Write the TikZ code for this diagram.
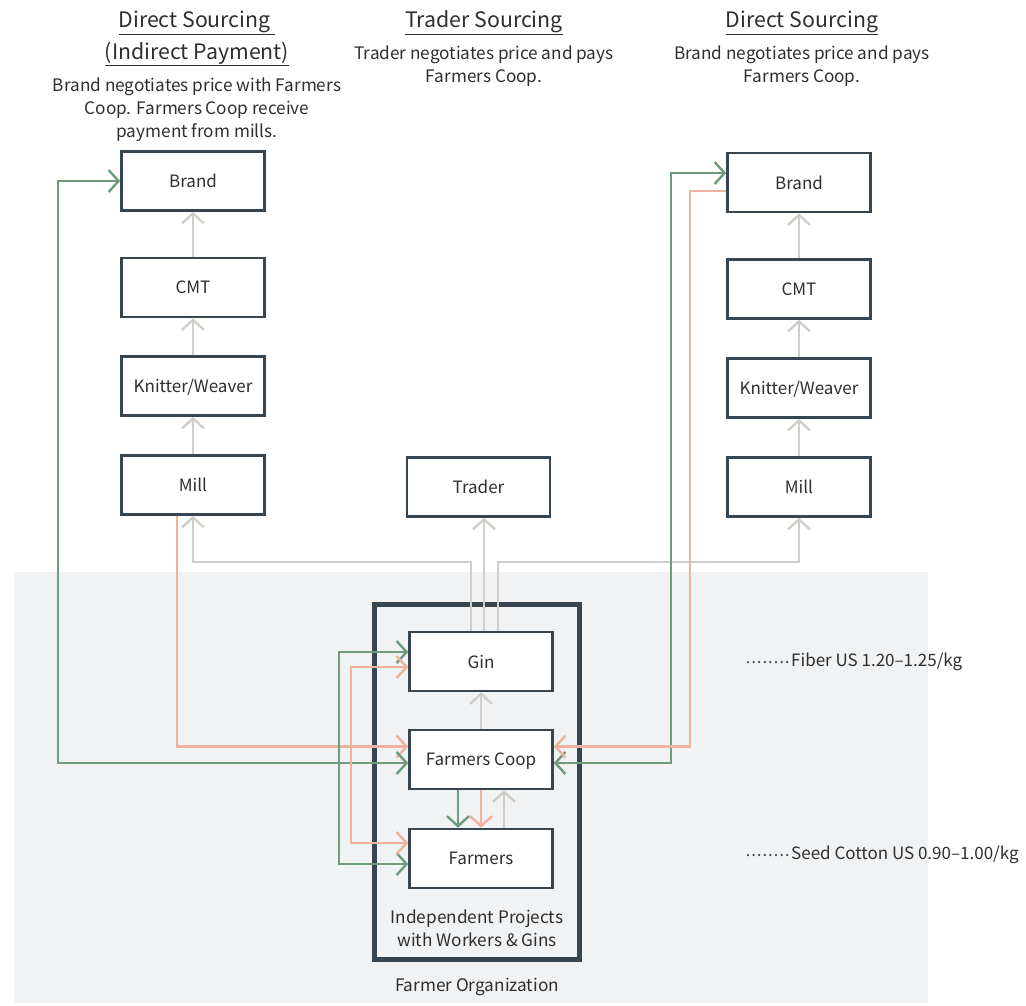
\documentclass[tikz,border=0pt]{standalone}
\usepackage{fontspec}
\setmainfont{Noto Sans CJK SC}
\usetikzlibrary{arrows.meta,calc}
\definecolor{ink}{HTML}{36454F}
\definecolor{txt}{HTML}{2E2E2E}
\definecolor{leaf}{HTML}{6F9A7B}
\definecolor{peach}{HTML}{EDB39F}
\definecolor{stone}{HTML}{CFCEC8}
\definecolor{mist}{HTML}{F0F2F4}
\begin{document}
\begin{tikzpicture}[x=1pt,y=-1pt,
  stage/.style={draw=ink,line width=2.6pt,fill=white,minimum width=143pt,
    minimum height=59pt,inner sep=0pt,text depth=0pt,text=txt,font=\fontsize{17}{20}\selectfont},
  barb/.tip={Straight Barb[length=10pt,width=22pt]},
  link/.style={line width=2.4pt,line cap=butt},
  stoneflow/.style={link,stone,-barb},
  leafflow/.style={link,leaf,-barb},
  peachflow/.style={link,peach,-barb},
  leafboth/.style={link,leaf,barb-barb},
  peachboth/.style={link,peach,barb-barb},
  heading/.style={text=txt,font=\fontsize{21.3}{31}\selectfont,align=center},
  note/.style={text=txt,font=\fontsize{17.2}{23}\selectfont,align=center},
  price/.style={anchor=west,text=txt,font=\fontsize{17}{20}\selectfont,inner sep=0pt},
  leader/.style={ink,line width=2.5pt,dash pattern=on 0pt off 5.6pt,line cap=round}]

\useasboundingbox (0,0) rectangle (1026,1005);
\fill[mist] (14,572) rectangle (928,1003);

% headings and descriptions
\node[heading] (h1a) at (197,23) {\underline{Direct Sourcing\ }};
\node[heading] (h1b) at (197,54) {\underline{(Indirect Payment)}};
\node[note] (d1) at (197,110) {Brand negotiates price with Farmers\\Coop. Farmers Coop receive\\payment from mills.};
\node[heading] (h2) at (484,23) {\underline{Trader Sourcing}};
\node[note] (d2) at (484,66.5) {Trader negotiates price and pays\\Farmers Coop.};
\node[heading] (h3) at (802,23) {\underline{Direct Sourcing}};
\node[note] (d3) at (802,66.5) {Brand negotiates price and pays\\Farmers Coop.};

% farmer organization frame
\node[draw=ink,line width=5pt,minimum width=205pt,minimum height=355pt,inner sep=0pt] (org) at (477,782) {};
\node[note] (proj) at (477,928) {Independent Projects\\with Workers \& Gins};
\node[note] (orgname) at (477,987) {Farmer Organization};

% left supply chain
\node[stage] (lbrand) at (193,181) {Brand};
\node[stage] (lcmt)   at (193,287.5) {CMT};
\node[stage] (lknit)  at (193,386) {Knitter/Weaver};
\node[stage] (lmill)  at (193,485) {Mill};

% right supply chain
\node[stage] (rbrand) at (799,182.5) {Brand};
\node[stage] (rcmt)   at (799,289) {CMT};
\node[stage] (rknit)  at (799,388) {Knitter/Weaver};
\node[stage] (rmill)  at (799,487) {Mill};

% trader and farmer organization stages
\node[stage] (trader) at (478.5,487) {Trader};
\node[stage] (gin)    at (481,661.5) {Gin};
\node[stage] (coop)   at (481,759.5) {Farmers Coop};
\node[stage] (farm)   at (481,858.5) {Farmers};

% price labels
\node[price] (fiber) at (791,662) {Fiber US 1.20–1.25/kg};
\node[price] (seed) at (791,855) {Seed Cotton US 0.90–1.00/kg};
\draw[leader] ($(fiber.west)+(-43,0)$) -- ($(fiber.west)+(-2,0)$);
\draw[leader] ($(seed.west)+(-43,0)$) -- ($(seed.west)+(-2,0)$);

% routing points
\coordinate (bus) at (0,562);
\coordinate (g1) at ($(gin.north)+(-10,0)$);
\coordinate (g2) at ($(gin.north)+(3,0)$);
\coordinate (g3) at ($(gin.north)+(17,0)$);
\coordinate (lrail) at (58,0);
\coordinate (rrailA) at (671,0);
\coordinate (rrailB) at (690,0);
\coordinate (irailA) at (339,0);
\coordinate (irailB) at (351,0);
\coordinate (msrc) at ($(lmill.south)+(-16,0)$);
\coordinate (cwA) at ($(coop.west)+(0,-13)$);
\coordinate (cwB) at ($(coop.west)+(0,3.5)$);
\coordinate (ceA) at ($(coop.east)+(0,-13)$);
\coordinate (ceB) at ($(coop.east)+(0,3.5)$);
\coordinate (rbA) at ($(rbrand.west)+(0,-9.5)$);
\coordinate (rbB) at ($(rbrand.west)+(0,8.5)$);
\coordinate (gwA) at ($(gin.west)+(0,-9.5)$);
\coordinate (gwB) at ($(gin.west)+(0,5.5)$);
\coordinate (fwA) at ($(farm.west)+(0,5.5)$);
\coordinate (fwB) at ($(farm.west)+(0,-15.5)$);
\coordinate (cdA) at ($(coop.south)+(-23,0)$);
\coordinate (cdC) at ($(coop.south)+(23,0)$);
\coordinate (fnA) at ($(farm.north)+(-23,0)$);
\coordinate (fnC) at ($(farm.north)+(23,0)$);

% product flow (grey)
\draw[stoneflow] (lmill.north) -- (lknit.south);
\draw[stoneflow] (lknit.north) -- (lcmt.south);
\draw[stoneflow] (lcmt.north) -- (lbrand.south);
\draw[stoneflow] (rmill.north) -- (rknit.south);
\draw[stoneflow] (rknit.north) -- (rcmt.south);
\draw[stoneflow] (rcmt.north) -- (rbrand.south);
\draw[stoneflow] (g1) -- (g1 |- bus) -| (lmill.south);
\draw[stoneflow] (g2) -- (g2 |- trader.south);
\draw[stoneflow] (g3) -- (g3 |- bus) -| (rmill.south);
\draw[stoneflow] (coop.north) -- (gin.south);
\draw[stoneflow] (fnC) -- (cdC);

% payments (peach) and price negotiation (green)
\draw[peachflow] (msrc) |- (cwA);
\draw[leafboth] (cwB) -- (cwB -| lrail) |- (lbrand.west);
\draw[leafboth] (ceB) -- (ceB -| rrailA) |- (rbA);
\draw[peachflow] (rbB) -- (rbB -| rrailB) |- (ceA);
\draw[leafboth] (gwA) -- (gwA -| irailA) |- (fwA);
\draw[peachboth] (gwB) -- (gwB -| irailB) |- (fwB);
\draw[leafflow] (cdA) -- (fnA);
\draw[peachflow] (coop.south) -- (farm.north);
\end{tikzpicture}
\end{document}
